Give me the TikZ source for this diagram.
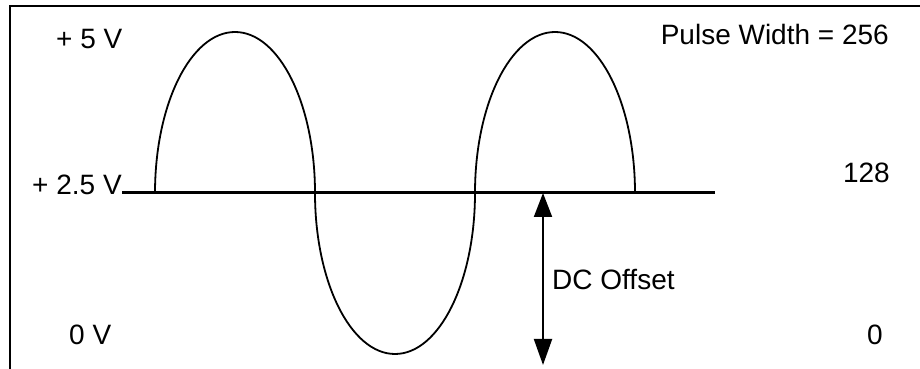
\documentclass[tikz,border=0pt]{standalone}
\usepackage{fontspec}
\setmainfont{Liberation Sans}
\usetikzlibrary{arrows.meta}

\begin{document}
\begin{tikzpicture}[x=1pt,y=1pt,lbl/.style={inner sep=0pt,font=\fontsize{28}{30}\selectfont}]
  \useasboundingbox (0,0) rectangle (920,369);
  % frame
  \draw[line width=2pt] (10,0) -- (10,363) -- (920,363);
  % axis at 2.5 V
  \draw[line width=3pt] (122,176) -- (715,176);
  % wave
  \draw[line width=1.8pt] (155,176)
    arc[start angle=180,end angle=0,x radius=80,y radius=161]
    arc[start angle=180,end angle=360,x radius=80,y radius=161]
    arc[start angle=180,end angle=0,x radius=80,y radius=161];
  % labels
  \node[lbl,anchor=base west] (v5) at (56,320) {+ 5 V};
  \node[lbl,anchor=base west] (v25) at (32,174) {+ 2.5 V};
  \node[lbl,anchor=base west] (v0) at (69,24) {0 V};
  \node[lbl,anchor=base east] (pw) at (889,324) {Pulse Width = 256};
  \node[lbl,anchor=base east] (p128) at (890,186) {128};
  \node[lbl,anchor=base east] (p0) at (883,24) {0};
  \node[lbl,anchor=base west] (dc) at (552,79) {DC Offset};
  % offset arrow
  \coordinate (top) at (543,176);
  \coordinate (bot) at (543,4);
  \draw[line width=2pt,{Triangle[length=24pt,width=18pt]}-{Triangle[length=26pt,width=18pt]}] (top) -- (bot);
\end{tikzpicture}
\end{document}
